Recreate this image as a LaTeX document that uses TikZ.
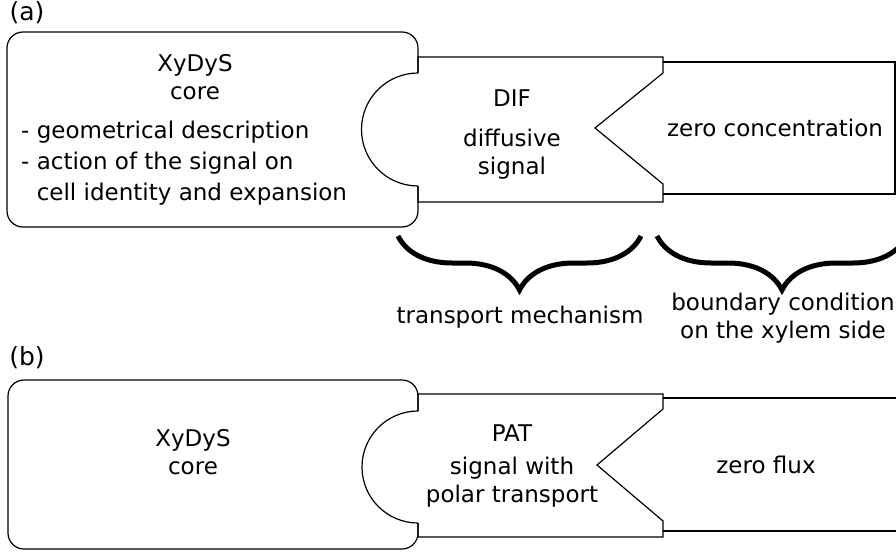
\documentclass[tikz,border=0pt]{standalone}
\usepackage{fontspec}
\setmainfont{DejaVu Sans}
\usetikzlibrary{decorations.pathreplacing}

\begin{document}
\begin{tikzpicture}[x=1pt,y=-1pt,
	piece/.style={draw, line width=1.2pt, line join=miter},
	txt/.style={align=center, inner sep=0pt},
	panel/.style={inner sep=0pt, font=\fontsize{25}{28}\selectfont},
	curly/.style={decorate, decoration={brace, amplitude=54, mirror}, line width=5pt},
	font=\fontsize{23}{28}\selectfont]

\useasboundingbox (0,0) rectangle (896,554);

% (a) diffusive signal
\node[panel] (lbla) at (27,13) {(a)};

\draw[piece,rounded corners=16] (418,73) -- (418,32) -- (7,32) -- (7,227) -- (418,227) -- (418,186);
\draw[piece] (418,186) -- (418,202) -- (663,202) -- (663,184) -- (595,128) -- (663,73) -- (663,57) -- (418,57) -- (418,73);
\draw[piece] (418,186) arc[start angle=90, end angle=270, radius=56.5];
\draw[piece] (663,62) -- (895,62) -- (895,194) -- (663,194);

\node[txt] (corea) at (195,77) {XyDyS\\core};
\node[txt,align=left,anchor=west] (desca) at (21,163) {- geometrical description\\[3pt]- action of the signal on\\[3pt]\phantom{- }cell identity and expansion};
\node[txt] (dif) at (512,98) {DIF};
\node[txt] (difdesc) at (512,154) {diffusive\\signal};
\node[txt] (bca) at (775,128) {zero concentration};

\draw[curly] (398,236) -- (641,236);
\draw[curly] (657,236) -- (907,236);
\node[txt] (trans) at (520,317) {transport mechanism};
\node[txt] (bound) at (783,318) {boundary condition\\on the xylem side};

% (b) polar transport
\node[panel] (lblb) at (27,358) {(b)};

\draw[piece,rounded corners=16] (418,411) -- (418,380) -- (8,380) -- (8,549) -- (418,549) -- (418,523);
\draw[piece] (418,523) -- (418,537) -- (663,537) -- (663,521) -- (597,465) -- (663,409) -- (663,394) -- (418,394) -- (418,411);
\draw[piece] (418,523) arc[start angle=90, end angle=270, radius=56];
\draw[piece] (663,398) -- (905,398) -- (905,531) -- (663,531);

\node[txt] (coreb) at (193,452) {XyDyS\\core};
\node[txt] (pat) at (512,433) {PAT};
\node[txt] (patdesc) at (512,482) {signal with\\polar transport};
\node[txt] (bcb) at (766,465) {zero flux};
\end{tikzpicture}
\end{document}
